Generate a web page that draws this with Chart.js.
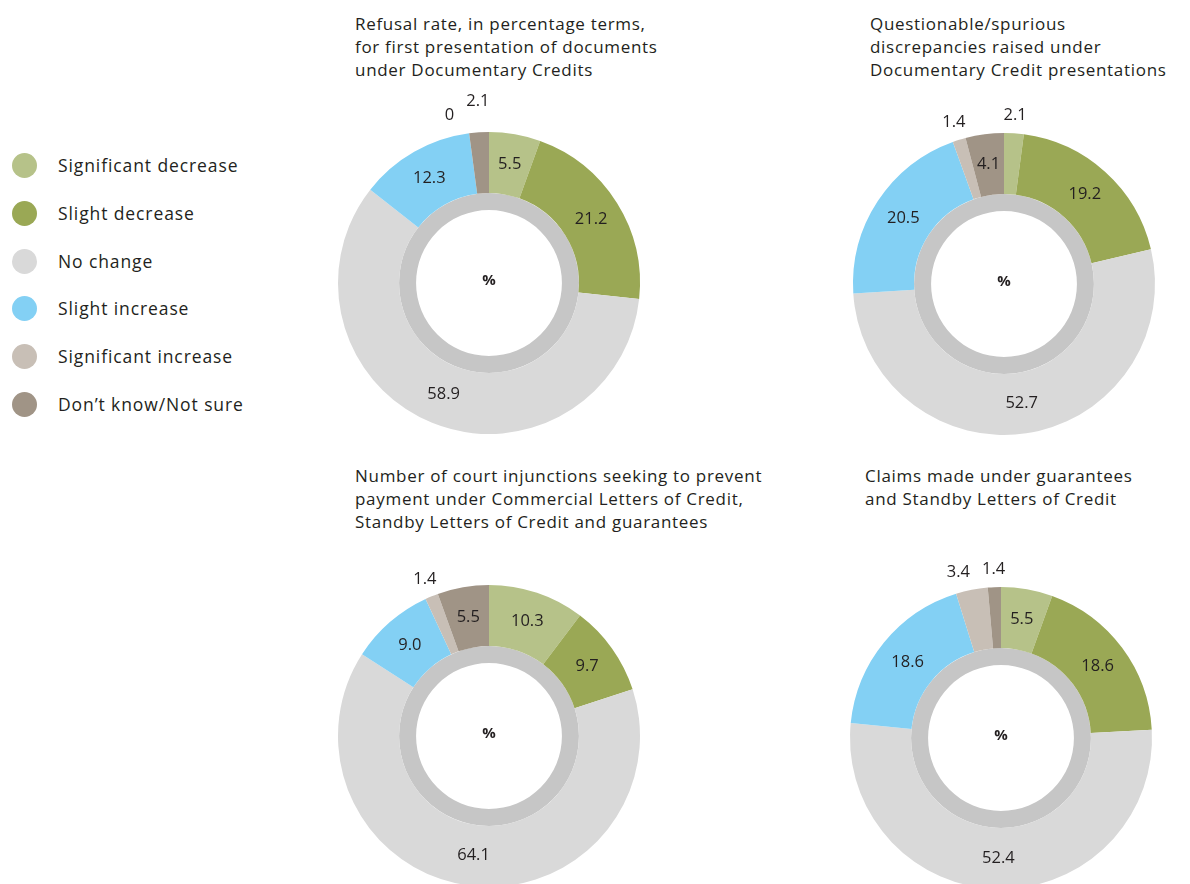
<!DOCTYPE html>
<html>
<head>
<meta charset="utf-8">
<script src="https://cdn.jsdelivr.net/npm/chart.js@4"></script>
<style>
  html, body { margin: 0; padding: 0; background: #fff; }
  body { width: 1190px; height: 884px; overflow: hidden; position: relative;
         font-family: "Open Sans", sans-serif; color: #231f20; }
  .title { position: absolute; font-size: 17px; line-height: 23px; letter-spacing: 0.7px; white-space: nowrap; }
  .box { position: absolute; width: 380px; height: 380px; }
  .legend { position: absolute; left: 12px; top: 153px; }
  .legend div { height: 47.8px; display: flex; align-items: flex-start; font-size: 17.5px; letter-spacing: 0.9px; }
  .legend span.dot { width: 25px; height: 25px; border-radius: 50%; margin-right: 21px; }
  .legend span.txt { line-height: 25px; }
</style>
</head>
<body>

<div class="legend" id="legend"></div>

<div class="title" style="left:355px; top:12px;">Refusal rate, in percentage terms,<br>for first presentation of documents<br>under Documentary Credits</div>
<div class="title" style="left:870px; top:12px;">Questionable/spurious<br>discrepancies raised under<br>Documentary Credit presentations</div>
<div class="title" style="left:355px; top:464px;">Number of court injunctions seeking to prevent<br>payment under Commercial Letters of Credit,<br>Standby Letters of Credit and guarantees</div>
<div class="title" style="left:865px; top:464px;">Claims made under guarantees<br>and Standby Letters of Credit</div>

<div class="box" style="left:299px; top:93px;"><canvas id="c1"></canvas></div>
<div class="box" style="left:814px; top:94px;"><canvas id="c2"></canvas></div>
<div class="box" style="left:299px; top:546px;"><canvas id="c3"></canvas></div>
<div class="box" style="left:811px; top:548px;"><canvas id="c4"></canvas></div>

<script>
// Categorías y colores
const categories = ["Significant decrease", "Slight decrease", "No change", "Slight increase", "Significant increase", "Don\u2019t know/Not sure"];
const colors = ["#b6c289", "#9aa855", "#d9d9d9", "#83d0f4", "#c8bfb6", "#a09486"];

// Valores de cada gráfico (orden horario desde arriba)
const refusalRate = [5.5, 21.2, 58.9, 12.3, 0, 2.1];
const spuriousDiscrepancies = [2.1, 19.2, 52.7, 20.5, 1.4, 4.1];
const courtInjunctions = [10.3, 9.7, 64.1, 9.0, 1.4, 5.5];
const guaranteeClaims = [5.5, 18.6, 52.4, 18.6, 3.4, 1.4];

const INNER_RING = "#c6c6c6";
const OUTSIDE_LIMIT = 4;

// Leyenda
const legendEl = document.getElementById("legend");
categories.forEach((cat, i) => {
  const row = document.createElement("div");
  row.innerHTML = `<span class="dot" style="background:${colors[i]}"></span><span class="txt">${cat}</span>`;
  legendEl.appendChild(row);
});

const fmt = v => (v === 0 ? "0" : v.toFixed(1));

// Etiquetas de valores y el "%" central
const labelPlugin = {
  id: "ringLabels",
  afterDatasetsDraw(chart) {
    const ctx = chart.ctx;
    const meta = chart.getDatasetMeta(0);
    const values = chart.data.datasets[0].data;
    ctx.save();
    ctx.fillStyle = "#231f20";
    ctx.textAlign = "center";
    ctx.textBaseline = "middle";
    ctx.font = '16.5px "Open Sans", sans-serif';

    const outside = [];
    meta.data.forEach((arc, i) => {
      const p = arc.getProps(["x", "y", "startAngle", "endAngle", "innerRadius", "outerRadius"], true);
      const mid = (p.startAngle + p.endAngle) / 2;
      const text = fmt(values[i]);
      if (values[i] >= OUTSIDE_LIMIT) {
        const r = (p.innerRadius + p.outerRadius) / 2;
        ctx.fillText(text, p.x + Math.cos(mid) * r, p.y + Math.sin(mid) * r);
      } else {
        const r = p.outerRadius + 18;
        outside.push({ text, x: p.x + Math.cos(mid) * r, y: p.y + Math.sin(mid) * r, w: ctx.measureText(text).width });
      }
    });

    // evitar solapes entre etiquetas exteriores
    outside.sort((a, b) => a.x - b.x);
    for (let i = 1; i < outside.length; i++) {
      const a = outside[i - 1], b = outside[i];
      const dx = b.x - a.x;
      const need = (a.w + b.w) / 2 + 4;
      if (dx < need && Math.abs(b.y - a.y) < 16) {
        a.x -= need - dx + 8;
        if (dx < need * 0.75) b.y -= 13;
      }
    }
    outside.forEach(o => ctx.fillText(o.text, o.x, o.y));

    const c = meta.data[0];
    ctx.font = 'bold 15px "Open Sans", sans-serif';
    ctx.fillText("%", c.x, c.y - 2);
    ctx.restore();
  }
};

function makeDonut(id, values) {
  return new Chart(document.getElementById(id), {
    type: "doughnut",
    data: {
      labels: categories,
      datasets: [
        { data: values, backgroundColor: colors, borderWidth: 0, weight: 61 },
        { data: [1], backgroundColor: [INNER_RING], borderWidth: 0, weight: 17 }
      ]
    },
    options: {
      responsive: true,
      maintainAspectRatio: false,
      animation: false,
      cutout: "48.3%",
      layout: { padding: 39 },
      plugins: {
        legend: { display: false },
        tooltip: { enabled: false }
      }
    },
    plugins: [labelPlugin]
  });
}

makeDonut("c1", refusalRate);
makeDonut("c2", spuriousDiscrepancies);
makeDonut("c3", courtInjunctions);
makeDonut("c4", guaranteeClaims);
</script>
</body>
</html>
